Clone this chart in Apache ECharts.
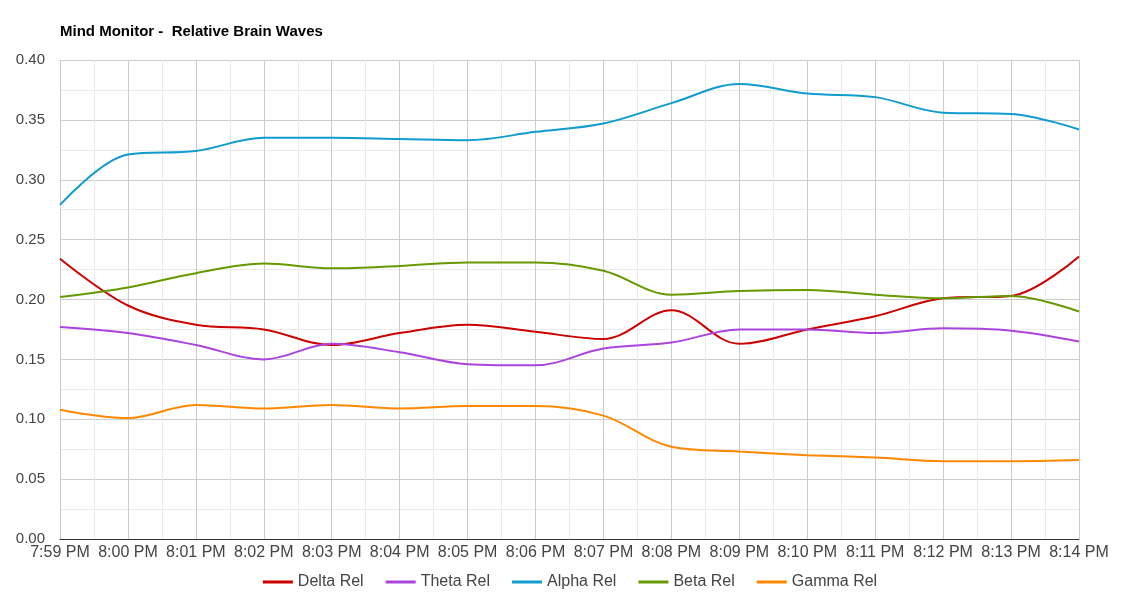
<!DOCTYPE html>
<html>
<head>
<meta charset="utf-8">
<script src="https://cdn.jsdelivr.net/npm/echarts@6/dist/echarts.min.js"></script>
<style>
  html, body { margin: 0; padding: 0; background: #fff; }
  #main { width: 1140px; height: 600px; }
</style>
</head>
<body>
<div id="main"></div>
<script>
// time labels, one point per minute
const times = ['7:59 PM', '8:00 PM', '8:01 PM', '8:02 PM', '8:03 PM', '8:04 PM', '8:05 PM', '8:06 PM',
  '8:07 PM', '8:08 PM', '8:09 PM', '8:10 PM', '8:11 PM', '8:12 PM', '8:13 PM', '8:14 PM']

const deltaRel = [0.234, 0.195, 0.179, 0.175, 0.162, 0.172, 0.179, 0.173, 0.167, 0.191, 0.163, 0.175, 0.186, 0.201, 0.203, 0.236]
const thetaRel = [0.177, 0.172, 0.162, 0.150, 0.163, 0.156, 0.146, 0.145, 0.159, 0.164, 0.175, 0.175, 0.172, 0.176, 0.174, 0.165]
const alphaRel = [0.279, 0.321, 0.324, 0.335, 0.335, 0.334, 0.333, 0.340, 0.347, 0.364, 0.380, 0.372, 0.369, 0.356, 0.355, 0.342]
const betaRel = [0.202, 0.210, 0.222, 0.230, 0.226, 0.228, 0.231, 0.231, 0.224, 0.204, 0.207, 0.208, 0.204, 0.201, 0.203, 0.190]
const gammaRel = [0.108, 0.101, 0.112, 0.109, 0.112, 0.109, 0.111, 0.111, 0.103, 0.077, 0.073, 0.070, 0.068, 0.065, 0.065, 0.066]

const seriesNames = ['Delta Rel', 'Theta Rel', 'Alpha Rel', 'Beta Rel', 'Gamma Rel']
const seriesData = [deltaRel, thetaRel, alphaRel, betaRel, gammaRel]
const colors = ['#cc0000', '#aa44dd', '#109ccf', '#669900', '#ff8800']

const chart = echarts.init(document.getElementById('main'))

const option = {
  color: colors,
  animation: false,
  textStyle: { fontFamily: 'Liberation Sans, Arial, sans-serif' },
  title: {
    text: 'Mind Monitor -  Relative Brain Waves',
    left: 60,
    top: 24,
    padding: 0,
    textStyle: { fontSize: 15, fontWeight: 'bold', color: '#000' },
  },
  legend: {
    top: 569,
    left: 'center',
    itemWidth: 30,
    itemHeight: 3,
    itemGap: 22,
    icon: 'rect',
    textStyle: { fontSize: 16, color: '#444' },
    data: seriesNames,
  },
  grid: { left: 60, right: 61, top: 60, bottom: 61 },
  xAxis: {
    type: 'value',
    min: 0,
    max: times.length - 1,
    interval: 1,
    axisLine: { show: true, onZero: false, lineStyle: { color: '#333', width: 1 } },
    axisTick: { show: false },
    axisLabel: {
      fontSize: 16,
      color: '#444',
      margin: 6,
      formatter: (v) => times[v] || '',
    },
    splitLine: { show: true, lineStyle: { color: '#cccccc' } },
    minorTick: { show: false, splitNumber: 2 },
    minorSplitLine: { show: true, lineStyle: { color: '#ebebeb' } },
  },
  yAxis: {
    type: 'value',
    min: 0,
    max: 0.4,
    interval: 0.05,
    axisLine: { show: false },
    axisTick: { show: false },
    axisLabel: {
      fontSize: 15,
      color: '#444',
      margin: 15,
      formatter: (v) => v.toFixed(2),
    },
    splitLine: { show: true, lineStyle: { color: '#cccccc' } },
    minorTick: { show: false, splitNumber: 2 },
    minorSplitLine: { show: true, lineStyle: { color: '#ebebeb' } },
  },
  series: seriesNames.map((name, i) => ({
    name,
    type: 'line',
    smooth: 0.35,
    symbol: 'none',
    lineStyle: { width: 2 },
    data: seriesData[i].map((v, j) => [j, v]),
  })),
}

chart.setOption(option)
</script>
</body>
</html>
